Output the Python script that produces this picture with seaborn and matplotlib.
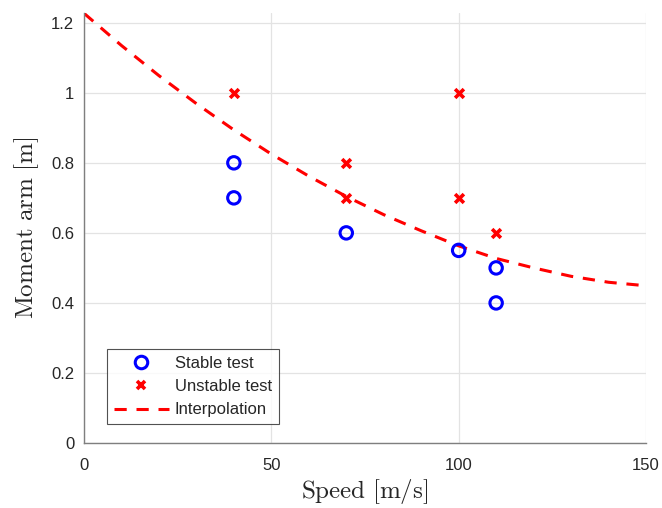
import matplotlib
matplotlib.use("Agg")
import matplotlib.pyplot as plt
import seaborn as sns
import pandas as pd
from matplotlib.lines import Line2D

# data
stable_speed = [40, 40, 70, 100, 110, 110]
stable_arm = [0.8, 0.7, 0.6, 0.55, 0.5, 0.4]
unstable_speed = [40, 70, 70, 100, 100, 110]
unstable_arm = [1.0, 0.8, 0.7, 1.0, 0.7, 0.6]
interp_speed = [0, 10, 20, 30, 40, 50, 60, 70, 80, 90, 100, 110, 120, 130, 140, 150]
interp_arm = [1.227, 1.135, 1.049, 0.969, 0.894, 0.825, 0.762, 0.704, 0.652,
              0.606, 0.563, 0.527, 0.500, 0.476, 0.459, 0.449]
x_ticks = [0, 50, 100, 150]
y_ticks = [0, 0.2, 0.4, 0.6, 0.8, 1.0, 1.2]
y_tick_labels = ["0", "0.2", "0.4", "0.6", "0.8", "1", "1.2"]

sns.set_style("white")
plt.rcParams["font.family"] = ["Liberation Sans", "DejaVu Sans"]
plt.rcParams["mathtext.fontset"] = "cm"

fig = plt.figure(figsize=(6.62, 5.08), dpi=100)
ax = fig.add_axes([84 / 662, 1 - 443 / 508, (646 - 84) / 662, (443 - 13.3) / 508])

df_s = pd.DataFrame({"speed": stable_speed, "arm": stable_arm})
df_u = pd.DataFrame({"speed": unstable_speed, "arm": unstable_arm})
df_i = pd.DataFrame({"speed": interp_speed, "arm": interp_arm})

sns.lineplot(data=df_i, x="speed", y="arm", ax=ax, color="#ff0000",
             linestyle=(0, (4, 3.2)), linewidth=2.2, zorder=2)
sns.scatterplot(data=df_s, x="speed", y="arm", ax=ax, marker="o", s=80,
                facecolor="none", edgecolor="#0000ff", linewidth=2.2, zorder=3)
sns.scatterplot(data=df_u, x="speed", y="arm", ax=ax, marker="x", s=40,
                color="#ff0000", linewidth=2.6, zorder=3)

ax.set_xlim(0, 150)
ax.set_ylim(0, 1.227)
ax.set_xticks(x_ticks)
ax.set_yticks(y_ticks)
ax.set_yticklabels(y_tick_labels)
ax.grid(True, color="#e3e3e3", linewidth=0.9)
ax.set_axisbelow(True)
for side in ["top", "right"]:
    ax.spines[side].set_visible(False)
for side in ["left", "bottom"]:
    ax.spines[side].set_color("#7f7f7f")
    ax.spines[side].set_linewidth(1.0)
ax.tick_params(axis="both", direction="in", length=5, width=0.8, color="#262626",
               labelsize=12, labelcolor="#262626", pad=7)
ax.tick_params(axis="x", pad=11)

ax.set_xlabel(r"$\mathrm{Speed\ [m/s]}$", fontsize=18, color="#262626", labelpad=3)
ax.set_ylabel(r"$\mathrm{Moment\ arm\ [m]}$", fontsize=18, color="#262626", labelpad=7)

handles = [
    Line2D([], [], marker="o", linestyle="none", markerfacecolor="none",
           markeredgecolor="#0000ff", markeredgewidth=2.2, markersize=9),
    Line2D([], [], marker="x", linestyle="none", color="#ff0000",
           markeredgewidth=2.6, markersize=6),
    Line2D([], [], color="#ff0000", linestyle=(0, (4, 3.2)), linewidth=2.2),
]
leg = ax.legend(handles, ["Stable test", "Unstable test", "Interpolation"],
                loc="lower left", bbox_to_anchor=(0.041, 0.044), fontsize=12,
                frameon=True, fancybox=False, edgecolor="#262626",
                handlelength=3.3, handletextpad=0.36, borderpad=0.4,
                labelspacing=0.5, borderaxespad=0)
leg.get_frame().set_linewidth(0.8)

fig.savefig("out.png", dpi=100)
